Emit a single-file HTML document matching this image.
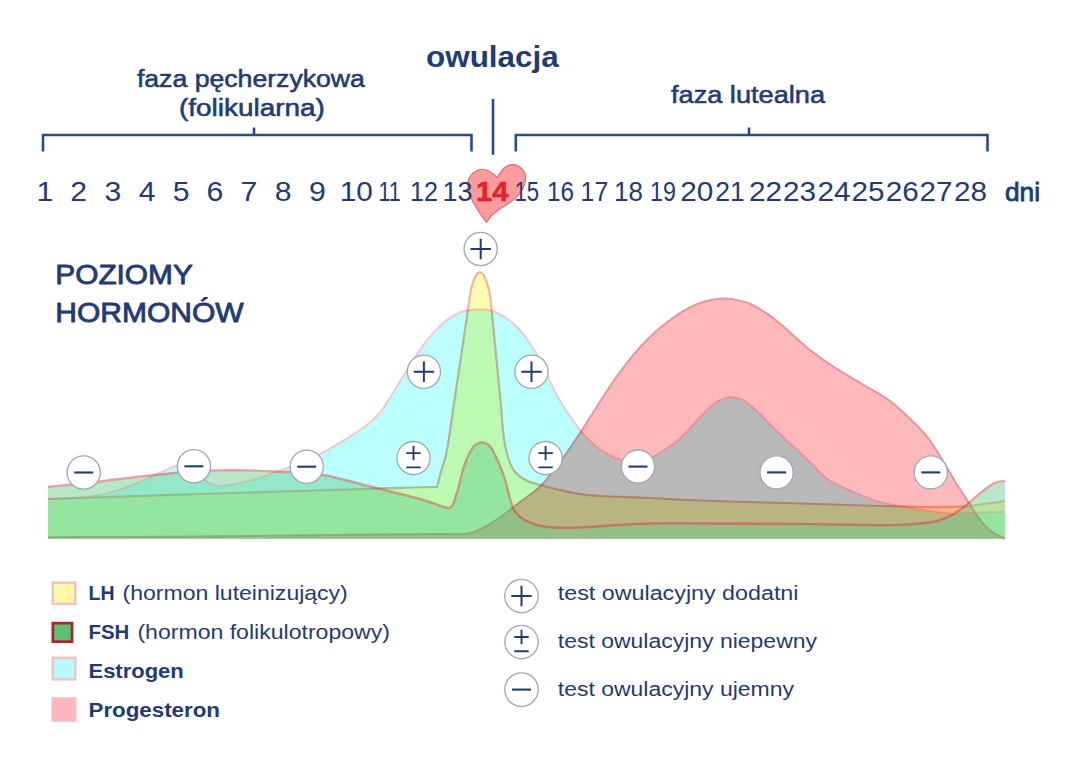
<!DOCTYPE html>
<html lang="pl">
<head>
<meta charset="utf-8">
<title>Poziomy hormonów</title>
<style>
html,body{margin:0;padding:0;background:#ffffff;}
body{width:1080px;height:767px;overflow:hidden;font-family:"Liberation Sans",sans-serif;}
svg text{font-family:"Liberation Sans",sans-serif;}
</style>
</head>
<body>
<svg width="1080" height="767" viewBox="0 0 1080 767" style="display:block;isolation:isolate">
<rect width="1080" height="767" fill="#ffffff"/>
<g style="isolation:isolate">
<rect x="0" y="230" width="1080" height="330" fill="#ffffff"/>
<g style="mix-blend-mode:multiply">
<path d="M48.0 538.7 L48.0 499.0 C53.3 498.8 71.3 498.2 80.0 497.5 C88.7 496.8 93.0 496.4 100.0 495.0 C107.0 493.6 115.2 491.2 122.0 489.0 C128.8 486.8 134.7 484.2 141.0 481.5 C147.3 478.8 154.5 475.3 160.0 472.8 C165.5 470.3 169.5 467.9 174.0 466.5 C178.5 465.1 183.2 463.9 187.0 464.5 C190.8 465.1 193.8 467.2 197.0 470.0 C200.2 472.8 202.5 478.3 206.0 481.0 C209.5 483.7 213.2 485.5 218.0 486.0 C222.8 486.5 228.7 485.2 235.0 484.0 C241.3 482.8 248.3 481.2 256.0 479.0 C263.7 476.8 273.7 473.2 281.0 470.5 C288.3 467.8 293.5 465.8 300.0 463.0 C306.5 460.2 315.0 456.4 320.0 454.0 C325.0 451.6 325.1 451.4 330.0 448.5 C334.9 445.6 343.1 441.1 349.6 436.9 C356.1 432.7 363.9 427.4 369.1 423.2 C374.3 419.0 377.6 415.4 380.9 411.5 C384.2 407.6 385.8 404.3 388.7 399.7 C391.6 395.1 395.2 389.3 398.5 384.1 C401.8 378.9 404.9 373.7 408.2 368.5 C411.4 363.3 414.7 357.7 418.0 352.8 C421.3 347.9 424.5 343.2 427.8 339.1 C431.1 335.0 434.4 331.6 437.6 328.4 C440.9 325.1 444.1 322.1 447.3 319.6 C450.6 317.2 453.8 315.2 457.1 313.7 C460.4 312.2 463.4 311.3 466.9 310.6 C470.4 309.9 473.9 309.5 478.0 309.5 C482.1 309.5 487.1 309.4 491.7 310.8 C496.3 312.2 500.8 314.5 505.4 317.6 C510.0 320.7 514.9 324.7 519.1 329.3 C523.4 333.9 527.6 340.3 530.9 345.0 C534.2 349.7 535.8 352.0 538.7 357.5 C541.6 363.0 545.2 371.5 548.5 378.2 C551.8 384.9 555.0 391.9 558.2 397.8 C561.5 403.7 564.7 408.5 568.0 413.4 C571.3 418.3 575.5 423.9 577.8 427.1 C580.1 430.3 578.8 429.4 581.7 432.5 C584.6 435.6 590.8 442.1 595.0 445.7 C599.2 449.3 602.8 451.6 607.0 454.0 C611.2 456.4 615.8 458.6 620.0 459.8 C624.2 461.1 627.8 461.6 632.0 461.5 C636.2 461.4 641.5 460.3 645.0 459.5 C648.5 458.7 649.3 458.5 653.0 456.6 C656.7 454.7 662.5 451.0 667.0 448.0 C671.5 445.0 675.2 443.1 680.0 438.8 C684.8 434.5 689.9 427.8 695.6 422.0 C701.3 416.2 709.2 407.7 714.0 403.8 C718.8 399.9 721.3 399.7 724.3 398.6 C727.3 397.5 729.0 397.1 732.0 397.3 C735.0 397.5 738.2 397.5 742.6 400.0 C747.0 402.5 754.0 408.5 758.2 412.3 C762.4 416.1 763.6 418.3 768.0 422.6 C772.4 426.9 777.2 431.6 784.3 438.2 C791.3 444.8 802.9 455.5 810.3 462.5 C817.7 469.5 821.5 475.1 828.6 480.0 C835.7 484.9 846.1 488.6 853.0 491.8 C859.9 495.0 863.9 496.9 870.0 499.0 C876.1 501.1 883.1 503.2 889.6 504.6 C896.1 506.0 902.6 506.6 908.7 507.6 C914.8 508.6 921.3 509.7 926.0 510.5 C930.7 511.3 932.7 511.8 937.0 512.4 C941.3 512.9 945.4 513.7 951.7 513.8 C958.0 513.9 966.1 513.4 975.0 513.0 C983.9 512.6 1000.0 511.9 1005.0 511.7 L1005.0 538.7 Z" fill="#bbfffc"/>
<path d="M48.0 499.0 C53.3 498.8 71.3 498.2 80.0 497.5 C88.7 496.8 93.0 496.4 100.0 495.0 C107.0 493.6 115.2 491.2 122.0 489.0 C128.8 486.8 134.7 484.2 141.0 481.5 C147.3 478.8 154.5 475.3 160.0 472.8 C165.5 470.3 169.5 467.9 174.0 466.5 C178.5 465.1 183.2 463.9 187.0 464.5 C190.8 465.1 193.8 467.2 197.0 470.0 C200.2 472.8 202.5 478.3 206.0 481.0 C209.5 483.7 213.2 485.5 218.0 486.0 C222.8 486.5 228.7 485.2 235.0 484.0 C241.3 482.8 248.3 481.2 256.0 479.0 C263.7 476.8 273.7 473.2 281.0 470.5 C288.3 467.8 293.5 465.8 300.0 463.0 C306.5 460.2 315.0 456.4 320.0 454.0 C325.0 451.6 325.1 451.4 330.0 448.5 C334.9 445.6 343.1 441.1 349.6 436.9 C356.1 432.7 363.9 427.4 369.1 423.2 C374.3 419.0 377.6 415.4 380.9 411.5 C384.2 407.6 385.8 404.3 388.7 399.7 C391.6 395.1 395.2 389.3 398.5 384.1 C401.8 378.9 404.9 373.7 408.2 368.5 C411.4 363.3 414.7 357.7 418.0 352.8 C421.3 347.9 424.5 343.2 427.8 339.1 C431.1 335.0 434.4 331.6 437.6 328.4 C440.9 325.1 444.1 322.1 447.3 319.6 C450.6 317.2 453.8 315.2 457.1 313.7 C460.4 312.2 463.4 311.3 466.9 310.6 C470.4 309.9 473.9 309.5 478.0 309.5 C482.1 309.5 487.1 309.4 491.7 310.8 C496.3 312.2 500.8 314.5 505.4 317.6 C510.0 320.7 514.9 324.7 519.1 329.3 C523.4 333.9 527.6 340.3 530.9 345.0 C534.2 349.7 535.8 352.0 538.7 357.5 C541.6 363.0 545.2 371.5 548.5 378.2 C551.8 384.9 555.0 391.9 558.2 397.8 C561.5 403.7 564.7 408.5 568.0 413.4 C571.3 418.3 575.5 423.9 577.8 427.1 C580.1 430.3 578.8 429.4 581.7 432.5 C584.6 435.6 590.8 442.1 595.0 445.7 C599.2 449.3 602.8 451.6 607.0 454.0 C611.2 456.4 615.8 458.6 620.0 459.8 C624.2 461.1 627.8 461.6 632.0 461.5 C636.2 461.4 641.5 460.3 645.0 459.5 C648.5 458.7 649.3 458.5 653.0 456.6 C656.7 454.7 662.5 451.0 667.0 448.0 C671.5 445.0 675.2 443.1 680.0 438.8 C684.8 434.5 689.9 427.8 695.6 422.0 C701.3 416.2 709.2 407.7 714.0 403.8 C718.8 399.9 721.3 399.7 724.3 398.6 C727.3 397.5 729.0 397.1 732.0 397.3 C735.0 397.5 738.2 397.5 742.6 400.0 C747.0 402.5 754.0 408.5 758.2 412.3 C762.4 416.1 763.6 418.3 768.0 422.6 C772.4 426.9 777.2 431.6 784.3 438.2 C791.3 444.8 802.9 455.5 810.3 462.5 C817.7 469.5 821.5 475.1 828.6 480.0 C835.7 484.9 846.1 488.6 853.0 491.8 C859.9 495.0 863.9 496.9 870.0 499.0 C876.1 501.1 883.1 503.2 889.6 504.6 C896.1 506.0 902.6 506.6 908.7 507.6 C914.8 508.6 921.3 509.7 926.0 510.5 C930.7 511.3 932.7 511.8 937.0 512.4 C941.3 512.9 945.4 513.7 951.7 513.8 C958.0 513.9 966.1 513.4 975.0 513.0 C983.9 512.6 1000.0 511.9 1005.0 511.7 " fill="none" stroke="#eecbd0" stroke-width="2.1" stroke-linejoin="round"/>
</g>
<g style="mix-blend-mode:multiply">
<path d="M48.0 538.7 L48.0 499.0 C56.7 498.7 74.7 498.1 100.0 497.3 C125.3 496.5 166.7 495.1 200.0 494.0 C233.3 492.9 266.7 492.0 300.0 491.0 C333.3 490.0 379.2 488.4 400.0 487.8 C420.8 487.2 418.8 487.3 425.0 487.2 C431.2 487.1 435.0 487.0 437.0 487.0 C437.8 484.2 439.8 476.2 441.5 470.0 C443.2 463.8 444.8 461.7 447.0 450.0 C449.2 438.3 452.1 415.8 454.5 400.0 C456.9 384.2 459.1 370.0 461.3 355.0 C463.5 340.0 466.3 320.7 467.9 310.0 C469.5 299.3 469.8 295.9 470.7 291.0 C471.6 286.1 472.6 283.4 473.6 280.6 C474.7 277.8 475.9 275.4 477.0 274.0 C478.1 272.6 479.0 272.3 480.0 272.3 C481.0 272.3 482.0 272.6 483.0 274.0 C484.0 275.4 485.0 277.8 486.0 280.6 C487.0 283.4 488.3 286.9 489.2 291.0 C490.1 295.1 490.1 294.8 491.2 305.0 C492.3 315.2 494.1 336.2 495.7 352.0 C497.2 367.8 499.3 386.8 500.5 400.0 C501.7 413.2 501.9 422.3 503.0 431.3 C504.1 440.3 505.4 447.8 507.2 454.2 C508.9 460.6 510.4 465.6 513.5 470.0 C516.6 474.4 521.1 477.7 526.0 480.3 C530.9 482.9 537.0 484.1 542.7 485.7 C548.4 487.3 554.4 488.7 560.0 490.0 C565.6 491.3 569.8 492.5 576.5 493.5 C583.2 494.5 587.8 495.2 600.0 496.0 C612.2 496.8 633.3 497.2 650.0 498.0 C666.7 498.8 675.0 499.6 700.0 500.5 C725.0 501.4 770.0 502.6 800.0 503.5 C830.0 504.4 859.5 505.4 880.0 506.0 C900.5 506.6 909.7 506.9 923.0 507.0 C936.3 507.1 950.5 507.1 960.0 506.7 C969.5 506.3 972.5 505.4 980.0 504.5 C987.5 503.6 1000.8 501.6 1005.0 501.0 L1005.0 538.7 Z" fill="#fffab4"/>
<path d="M48.0 499.0 C56.7 498.7 74.7 498.1 100.0 497.3 C125.3 496.5 166.7 495.1 200.0 494.0 C233.3 492.9 266.7 492.0 300.0 491.0 C333.3 490.0 379.2 488.4 400.0 487.8 C420.8 487.2 418.8 487.3 425.0 487.2 C431.2 487.1 435.0 487.0 437.0 487.0 C437.8 484.2 439.8 476.2 441.5 470.0 C443.2 463.8 444.8 461.7 447.0 450.0 C449.2 438.3 452.1 415.8 454.5 400.0 C456.9 384.2 459.1 370.0 461.3 355.0 C463.5 340.0 466.3 320.7 467.9 310.0 C469.5 299.3 469.8 295.9 470.7 291.0 C471.6 286.1 472.6 283.4 473.6 280.6 C474.7 277.8 475.9 275.4 477.0 274.0 C478.1 272.6 479.0 272.3 480.0 272.3 C481.0 272.3 482.0 272.6 483.0 274.0 C484.0 275.4 485.0 277.8 486.0 280.6 C487.0 283.4 488.3 286.9 489.2 291.0 C490.1 295.1 490.1 294.8 491.2 305.0 C492.3 315.2 494.1 336.2 495.7 352.0 C497.2 367.8 499.3 386.8 500.5 400.0 C501.7 413.2 501.9 422.3 503.0 431.3 C504.1 440.3 505.4 447.8 507.2 454.2 C508.9 460.6 510.4 465.6 513.5 470.0 C516.6 474.4 521.1 477.7 526.0 480.3 C530.9 482.9 537.0 484.1 542.7 485.7 C548.4 487.3 554.4 488.7 560.0 490.0 C565.6 491.3 569.8 492.5 576.5 493.5 C583.2 494.5 587.8 495.2 600.0 496.0 C612.2 496.8 633.3 497.2 650.0 498.0 C666.7 498.8 675.0 499.6 700.0 500.5 C725.0 501.4 770.0 502.6 800.0 503.5 C830.0 504.4 859.5 505.4 880.0 506.0 C900.5 506.6 909.7 506.9 923.0 507.0 C936.3 507.1 950.5 507.1 960.0 506.7 C969.5 506.3 972.5 505.4 980.0 504.5 C987.5 503.6 1000.8 501.6 1005.0 501.0 " fill="none" stroke="#f2b698" stroke-width="2.2" stroke-linejoin="round"/>
</g>
<g style="mix-blend-mode:multiply">
<path d="M48.0 538.7 L48.0 537.3 C73.3 537.2 141.3 537.0 200.0 536.5 C258.7 536.0 360.0 534.7 400.0 534.3 C440.0 533.9 428.7 534.1 440.0 534.0 C451.3 533.9 460.1 534.7 467.6 533.5 C475.1 532.3 478.8 530.3 485.0 527.0 C491.2 523.7 499.2 517.9 505.0 513.7 C510.8 509.5 514.1 506.6 520.0 502.0 C525.9 497.4 533.5 493.1 540.3 486.3 C547.1 479.5 553.9 470.4 560.7 461.3 C567.5 452.2 575.8 439.4 581.0 431.6 C586.2 423.8 588.1 420.6 592.0 414.5 C595.9 408.4 599.8 401.8 604.3 395.0 C608.8 388.2 613.9 380.5 618.7 373.9 C623.5 367.3 628.2 361.0 633.0 355.3 C637.8 349.6 642.6 344.3 647.4 339.5 C652.2 334.7 656.9 330.6 661.7 326.6 C666.5 322.7 671.2 319.0 676.0 315.8 C680.8 312.6 685.6 309.6 690.4 307.2 C695.2 304.8 699.9 302.9 704.7 301.5 C709.5 300.1 714.2 299.1 719.0 298.7 C723.8 298.3 728.2 298.4 733.4 299.3 C738.6 300.2 744.1 301.1 750.4 304.0 C756.7 306.9 764.7 311.8 771.2 316.5 C777.7 321.2 783.0 326.4 789.5 332.0 C796.0 337.6 802.5 344.3 810.3 350.4 C818.1 356.5 827.7 363.0 836.4 368.6 C845.1 374.2 853.8 379.1 862.5 384.3 C871.2 389.5 880.8 394.4 888.6 400.0 C896.4 405.6 902.9 411.9 909.4 418.2 C915.9 424.4 922.1 430.3 927.7 437.5 C933.4 444.7 938.5 453.8 943.3 461.5 C948.1 469.2 951.9 476.4 956.3 483.5 C960.7 490.6 965.6 497.7 969.6 503.8 C973.6 509.9 976.7 515.6 980.4 520.3 C984.1 525.0 987.8 528.7 991.9 531.8 C996.0 534.9 1002.8 537.6 1005.0 538.8 L1005.0 538.7 Z" fill="#fdb9bb"/>
<path d="M48.0 537.3 C73.3 537.2 141.3 537.0 200.0 536.5 C258.7 536.0 360.0 534.7 400.0 534.3 C440.0 533.9 428.7 534.1 440.0 534.0 C451.3 533.9 460.1 534.7 467.6 533.5 C475.1 532.3 478.8 530.3 485.0 527.0 C491.2 523.7 499.2 517.9 505.0 513.7 C510.8 509.5 514.1 506.6 520.0 502.0 C525.9 497.4 533.5 493.1 540.3 486.3 C547.1 479.5 553.9 470.4 560.7 461.3 C567.5 452.2 575.8 439.4 581.0 431.6 C586.2 423.8 588.1 420.6 592.0 414.5 C595.9 408.4 599.8 401.8 604.3 395.0 C608.8 388.2 613.9 380.5 618.7 373.9 C623.5 367.3 628.2 361.0 633.0 355.3 C637.8 349.6 642.6 344.3 647.4 339.5 C652.2 334.7 656.9 330.6 661.7 326.6 C666.5 322.7 671.2 319.0 676.0 315.8 C680.8 312.6 685.6 309.6 690.4 307.2 C695.2 304.8 699.9 302.9 704.7 301.5 C709.5 300.1 714.2 299.1 719.0 298.7 C723.8 298.3 728.2 298.4 733.4 299.3 C738.6 300.2 744.1 301.1 750.4 304.0 C756.7 306.9 764.7 311.8 771.2 316.5 C777.7 321.2 783.0 326.4 789.5 332.0 C796.0 337.6 802.5 344.3 810.3 350.4 C818.1 356.5 827.7 363.0 836.4 368.6 C845.1 374.2 853.8 379.1 862.5 384.3 C871.2 389.5 880.8 394.4 888.6 400.0 C896.4 405.6 902.9 411.9 909.4 418.2 C915.9 424.4 922.1 430.3 927.7 437.5 C933.4 444.7 938.5 453.8 943.3 461.5 C948.1 469.2 951.9 476.4 956.3 483.5 C960.7 490.6 965.6 497.7 969.6 503.8 C973.6 509.9 976.7 515.6 980.4 520.3 C984.1 525.0 987.8 528.7 991.9 531.8 C996.0 534.9 1002.8 537.6 1005.0 538.8 " fill="none" stroke="#e8969c" stroke-width="2.0" stroke-linejoin="round"/>
</g>
<g opacity="0.45">
<path d="M48.0 538.7 L48.0 487.0 C56.7 486.1 83.0 483.4 100.0 481.5 C117.0 479.6 133.3 477.2 150.0 475.5 C166.7 473.8 185.0 471.9 200.0 471.0 C215.0 470.1 227.7 470.2 240.0 470.3 C252.3 470.4 260.3 470.7 274.0 471.5 C287.7 472.3 306.6 472.6 322.0 475.0 C337.4 477.4 353.7 482.5 366.7 485.7 C379.7 488.9 391.1 491.8 400.0 494.0 C408.9 496.2 414.0 497.3 420.0 499.0 C426.0 500.7 432.0 503.0 436.0 504.3 C440.0 505.6 441.9 506.4 444.0 507.0 C446.1 507.6 447.2 508.2 448.6 508.0 C450.0 507.8 451.3 507.1 452.3 505.8 C453.3 504.5 453.7 502.9 454.7 500.0 C455.7 497.1 457.3 491.9 458.4 488.2 C459.4 484.4 460.2 480.7 461.0 477.5 C461.8 474.3 462.3 471.9 463.2 469.0 C464.1 466.1 464.9 463.4 466.5 459.8 C468.1 456.2 471.1 450.1 473.0 447.4 C474.9 444.7 476.4 444.3 478.0 443.5 C479.6 442.7 481.0 442.4 482.5 442.5 C484.0 442.6 485.5 443.1 487.0 444.0 C488.5 444.9 489.5 445.2 491.3 448.0 C493.1 450.8 495.6 456.1 497.8 461.0 C500.0 465.9 502.4 471.7 504.3 477.4 C506.2 483.1 507.5 489.7 509.0 495.0 C510.5 500.3 511.7 505.3 513.5 509.0 C515.3 512.7 517.2 514.8 520.0 517.0 C522.8 519.2 525.5 520.8 530.0 522.5 C534.5 524.2 539.2 526.1 547.0 527.0 C554.8 527.9 566.0 527.9 576.5 527.6 C587.0 527.4 597.8 526.2 610.0 525.5 C622.2 524.8 635.0 523.8 650.0 523.5 C665.0 523.2 675.0 523.4 700.0 523.5 C725.0 523.6 770.0 523.7 800.0 524.0 C830.0 524.3 861.7 525.2 880.0 525.3 C898.3 525.3 902.8 524.6 910.0 524.3 C917.2 523.9 918.4 523.8 923.0 523.2 C927.6 522.7 932.6 522.3 937.4 521.0 C942.2 519.7 946.9 517.9 951.7 515.3 C956.5 512.7 961.2 509.0 966.0 505.3 C970.8 501.6 975.6 496.7 980.4 493.0 C985.2 489.3 990.6 485.2 994.7 483.2 C998.8 481.2 1003.3 481.3 1005.0 480.9 L1005.0 538.7 Z" fill="#66cc8b"/>
<path d="M48.0 487.0 C56.7 486.1 83.0 483.4 100.0 481.5 C117.0 479.6 133.3 477.2 150.0 475.5 C166.7 473.8 185.0 471.9 200.0 471.0 C215.0 470.1 227.7 470.2 240.0 470.3 C252.3 470.4 260.3 470.7 274.0 471.5 C287.7 472.3 306.6 472.6 322.0 475.0 C337.4 477.4 353.7 482.5 366.7 485.7 C379.7 488.9 391.1 491.8 400.0 494.0 C408.9 496.2 414.0 497.3 420.0 499.0 C426.0 500.7 432.0 503.0 436.0 504.3 C440.0 505.6 441.9 506.4 444.0 507.0 C446.1 507.6 447.2 508.2 448.6 508.0 C450.0 507.8 451.3 507.1 452.3 505.8 C453.3 504.5 453.7 502.9 454.7 500.0 C455.7 497.1 457.3 491.9 458.4 488.2 C459.4 484.4 460.2 480.7 461.0 477.5 C461.8 474.3 462.3 471.9 463.2 469.0 C464.1 466.1 464.9 463.4 466.5 459.8 C468.1 456.2 471.1 450.1 473.0 447.4 C474.9 444.7 476.4 444.3 478.0 443.5 C479.6 442.7 481.0 442.4 482.5 442.5 C484.0 442.6 485.5 443.1 487.0 444.0 C488.5 444.9 489.5 445.2 491.3 448.0 C493.1 450.8 495.6 456.1 497.8 461.0 C500.0 465.9 502.4 471.7 504.3 477.4 C506.2 483.1 507.5 489.7 509.0 495.0 C510.5 500.3 511.7 505.3 513.5 509.0 C515.3 512.7 517.2 514.8 520.0 517.0 C522.8 519.2 525.5 520.8 530.0 522.5 C534.5 524.2 539.2 526.1 547.0 527.0 C554.8 527.9 566.0 527.9 576.5 527.6 C587.0 527.4 597.8 526.2 610.0 525.5 C622.2 524.8 635.0 523.8 650.0 523.5 C665.0 523.2 675.0 523.4 700.0 523.5 C725.0 523.6 770.0 523.7 800.0 524.0 C830.0 524.3 861.7 525.2 880.0 525.3 C898.3 525.3 902.8 524.6 910.0 524.3 C917.2 523.9 918.4 523.8 923.0 523.2 C927.6 522.7 932.6 522.3 937.4 521.0 C942.2 519.7 946.9 517.9 951.7 515.3 C956.5 512.7 961.2 509.0 966.0 505.3 C970.8 501.6 975.6 496.7 980.4 493.0 C985.2 489.3 990.6 485.2 994.7 483.2 C998.8 481.2 1003.3 481.3 1005.0 480.9 " fill="none" stroke="#cc3030" stroke-width="2.4" stroke-linejoin="round"/>
</g>
</g>
<circle cx="83.7" cy="472.5" r="16.6" fill="#ffffff" stroke="#a3a8b6" stroke-width="1.35"/><path d="M74.2 472.5h19" stroke="#1f3b78" stroke-width="2.1" fill="none"/>
<circle cx="193.9" cy="466.3" r="16.6" fill="#ffffff" stroke="#a3a8b6" stroke-width="1.35"/><path d="M184.4 466.3h19" stroke="#1f3b78" stroke-width="2.1" fill="none"/>
<circle cx="306.7" cy="466.7" r="16.6" fill="#ffffff" stroke="#a3a8b6" stroke-width="1.35"/><path d="M297.2 466.7h19" stroke="#1f3b78" stroke-width="2.1" fill="none"/>
<circle cx="480.7" cy="249.0" r="16.6" fill="#ffffff" stroke="#a3a8b6" stroke-width="1.35"/><path d="M470.5 249.0h20.4M480.7 238.8v20.4" stroke="#1f3b78" stroke-width="2.0" fill="none"/>
<circle cx="423.9" cy="371.7" r="16.6" fill="#ffffff" stroke="#a3a8b6" stroke-width="1.35"/><path d="M413.7 371.7h20.4M423.9 361.5v20.4" stroke="#1f3b78" stroke-width="2.0" fill="none"/>
<circle cx="531.5" cy="371.7" r="16.6" fill="#ffffff" stroke="#a3a8b6" stroke-width="1.35"/><path d="M521.3 371.7h20.4M531.5 361.5v20.4" stroke="#1f3b78" stroke-width="2.0" fill="none"/>
<circle cx="413.5" cy="458.1" r="16.6" fill="#ffffff" stroke="#a3a8b6" stroke-width="1.35"/><path d="M406.3 453.1h14.4M413.5 445.9v14.4M406.3 467.4h14.4" stroke="#1f3b78" stroke-width="1.9" fill="none"/>
<circle cx="545.6" cy="458.1" r="16.6" fill="#ffffff" stroke="#a3a8b6" stroke-width="1.35"/><path d="M538.4 453.1h14.4M545.6 445.9v14.4M538.4 467.4h14.4" stroke="#1f3b78" stroke-width="1.9" fill="none"/>
<circle cx="638.0" cy="466.6" r="16.6" fill="#ffffff" stroke="#a3a8b6" stroke-width="1.35"/><path d="M628.5 466.6h19" stroke="#1f3b78" stroke-width="2.1" fill="none"/>
<circle cx="776.6" cy="472.4" r="16.6" fill="#ffffff" stroke="#a3a8b6" stroke-width="1.35"/><path d="M767.1 472.4h19" stroke="#1f3b78" stroke-width="2.1" fill="none"/>
<circle cx="930.8" cy="472.4" r="16.6" fill="#ffffff" stroke="#a3a8b6" stroke-width="1.35"/><path d="M921.3 472.4h19" stroke="#1f3b78" stroke-width="2.1" fill="none"/>
<g stroke="#2a4a8e" stroke-width="2.6" fill="none">
<path d="M43 151.5V135H471.5V151.5"/>
<path d="M254 135V127.5"/>
<path d="M515.8 151.5V135H987.5V151.5"/>
<path d="M749 135V127.5"/>
<path d="M493 99V154.8"/>
</g>
<path d="M486.5 222.5 C485.3 220.9 481.8 216.3 479.5 212.7 C477.2 209.1 474.4 204.6 472.6 201.0 C470.8 197.4 469.5 194.1 468.7 191.2 C467.9 188.3 467.4 186.0 467.7 183.4 C468.0 180.8 469.2 177.6 470.7 175.5 C472.2 173.4 474.7 171.8 476.5 170.7 C478.3 169.6 479.4 169.2 481.4 169.2 C483.4 169.2 486.2 169.8 488.3 170.7 C490.4 171.6 492.6 173.4 494.1 174.6 C495.6 175.8 496.6 177.3 497.1 177.8 C497.8 176.8 499.5 173.4 501.0 171.6 C502.5 169.8 503.9 167.9 505.9 166.7 C507.8 165.5 510.4 164.6 512.7 164.6 C515.0 164.6 517.6 165.4 519.6 166.7 C521.6 168.0 523.5 170.6 524.5 172.6 C525.5 174.6 525.8 176.1 525.6 178.5 C525.4 180.9 524.8 184.4 523.5 187.3 C522.2 190.2 519.9 193.6 517.6 196.1 C515.3 198.6 512.9 200.3 509.8 202.5 C506.7 204.7 502.1 207.2 499.0 209.5 C495.9 211.8 493.3 213.8 491.2 216.0 C489.1 218.2 487.3 221.4 486.5 222.5 Z" fill="#f9898c" fill-opacity="0.85" stroke="#e3676c" stroke-width="1.1" stroke-linejoin="round"/>
<g font-family="'Liberation Sans', sans-serif">
<text x="426.1" y="66.9" font-size="30" font-weight="bold" fill="#1f3b78" textLength="132.6" lengthAdjust="spacingAndGlyphs">owulacja</text>
<text x="136.9" y="86.5" font-size="23.5" font-weight="normal" fill="#1f3b78" textLength="228.0" lengthAdjust="spacingAndGlyphs" stroke="#1f3b78" stroke-width="0.55" stroke-linejoin="round">faza pęcherzykowa</text>
<text x="179.0" y="115.6" font-size="23.5" font-weight="normal" fill="#1f3b78" textLength="145.8" lengthAdjust="spacingAndGlyphs" stroke="#1f3b78" stroke-width="0.55" stroke-linejoin="round">(folikularna)</text>
<text x="671.0" y="102.5" font-size="23.5" font-weight="normal" fill="#1f3b78" textLength="154.0" lengthAdjust="spacingAndGlyphs" stroke="#1f3b78" stroke-width="0.55" stroke-linejoin="round">faza lutealna</text>
<text transform="translate(44.8 201.2) scale(1.120 1)" text-anchor="middle" font-size="27" fill="#1f3b78">1</text>
<text transform="translate(78.7 201.2) scale(1.120 1)" text-anchor="middle" font-size="27" fill="#1f3b78">2</text>
<text transform="translate(113.0 201.2) scale(1.120 1)" text-anchor="middle" font-size="27" fill="#1f3b78">3</text>
<text transform="translate(147.2 201.2) scale(1.120 1)" text-anchor="middle" font-size="27" fill="#1f3b78">4</text>
<text transform="translate(181.2 201.2) scale(1.120 1)" text-anchor="middle" font-size="27" fill="#1f3b78">5</text>
<text transform="translate(215.0 201.2) scale(1.120 1)" text-anchor="middle" font-size="27" fill="#1f3b78">6</text>
<text transform="translate(249.0 201.2) scale(1.120 1)" text-anchor="middle" font-size="27" fill="#1f3b78">7</text>
<text transform="translate(283.2 201.2) scale(1.120 1)" text-anchor="middle" font-size="27" fill="#1f3b78">8</text>
<text transform="translate(317.5 201.2) scale(1.120 1)" text-anchor="middle" font-size="27" fill="#1f3b78">9</text>
<text transform="translate(356.2 201.2) scale(1.100 1)" text-anchor="middle" font-size="27" fill="#1f3b78">10</text>
<text transform="translate(389.6 201.2) scale(0.800 1)" text-anchor="middle" font-size="27" fill="#1f3b78">11</text>
<text transform="translate(424.0 201.2) scale(0.930 1)" text-anchor="middle" font-size="27" fill="#1f3b78">12</text>
<text transform="translate(457.5 201.2) scale(1.000 1)" text-anchor="middle" font-size="27" fill="#1f3b78">13</text>
<text transform="translate(526.8 201.2) scale(0.820 1)" text-anchor="middle" font-size="27" fill="#1f3b78">15</text>
<text transform="translate(560.6 201.2) scale(0.900 1)" text-anchor="middle" font-size="27" fill="#1f3b78">16</text>
<text transform="translate(594.4 201.2) scale(0.920 1)" text-anchor="middle" font-size="27" fill="#1f3b78">17</text>
<text transform="translate(628.4 201.2) scale(0.960 1)" text-anchor="middle" font-size="27" fill="#1f3b78">18</text>
<text transform="translate(662.9 201.2) scale(0.860 1)" text-anchor="middle" font-size="27" fill="#1f3b78">19</text>
<text transform="translate(696.8 201.2) scale(1.100 1)" text-anchor="middle" font-size="27" fill="#1f3b78">20</text>
<text transform="translate(730.0 201.2) scale(0.980 1)" text-anchor="middle" font-size="27" fill="#1f3b78">21</text>
<text transform="translate(765.5 201.2) scale(1.100 1)" text-anchor="middle" font-size="27" fill="#1f3b78">22</text>
<text transform="translate(799.5 201.2) scale(1.100 1)" text-anchor="middle" font-size="27" fill="#1f3b78">23</text>
<text transform="translate(834.0 201.2) scale(1.100 1)" text-anchor="middle" font-size="27" fill="#1f3b78">24</text>
<text transform="translate(868.0 201.2) scale(1.100 1)" text-anchor="middle" font-size="27" fill="#1f3b78">25</text>
<text transform="translate(902.2 201.2) scale(1.100 1)" text-anchor="middle" font-size="27" fill="#1f3b78">26</text>
<text transform="translate(936.0 201.2) scale(1.100 1)" text-anchor="middle" font-size="27" fill="#1f3b78">27</text>
<text transform="translate(970.4 201.2) scale(1.100 1)" text-anchor="middle" font-size="27" fill="#1f3b78">28</text>
<text x="1005.0" y="201.2" font-size="25" font-weight="normal" fill="#1f3b78" textLength="35.0" lengthAdjust="spacingAndGlyphs" stroke="#1f3b78" stroke-width="0.8" stroke-linejoin="round">dni</text>
<text x="55.3" y="284.2" font-size="28.4" font-weight="normal" fill="#1f3b78" textLength="137.5" lengthAdjust="spacingAndGlyphs" stroke="#1f3b78" stroke-width="0.9" stroke-linejoin="round">POZIOMY</text>
<text x="55.3" y="322.3" font-size="28.4" font-weight="normal" fill="#1f3b78" textLength="188.4" lengthAdjust="spacingAndGlyphs" stroke="#1f3b78" stroke-width="0.9" stroke-linejoin="round">HORMONÓW</text>
</g>
<g font-family="'Liberation Sans', sans-serif">
<text x="476.0" y="200.5" font-size="28.5" font-weight="bold" fill="#e6212b" textLength="32.3" lengthAdjust="spacingAndGlyphs" stroke="#e6212b" stroke-width="0.6" stroke-linejoin="round">14</text>
</g>
<rect x="52.7" y="582.7" width="22.6" height="21.1" fill="#fff8aa" stroke="#f1c1be" stroke-width="2.4"/>
<rect x="52.85" y="623.15" width="19.2" height="18.5" fill="#5ac072" stroke="#b0212f" stroke-width="2.7"/>
<rect x="52.7" y="657.8" width="22.6" height="21.6" fill="#b9fbfc" stroke="#f1c1c5" stroke-width="2.4"/>
<rect x="52.7" y="698.5" width="22.6" height="22.1" fill="#fdb6b9" stroke="#f6bdc1" stroke-width="2.4"/>
<g font-family="'Liberation Sans', sans-serif">
<text x="88.5" y="600.0" font-size="19.8" font-weight="bold" fill="#1f3b78" textLength="26.0" lengthAdjust="spacingAndGlyphs">LH</text>
<text x="122.6" y="600.0" font-size="19.8" font-weight="normal" fill="#1f3b78" textLength="225.2" lengthAdjust="spacingAndGlyphs">(hormon luteinizujący)</text>
<text x="88.5" y="638.9" font-size="19.8" font-weight="bold" fill="#1f3b78" textLength="40.8" lengthAdjust="spacingAndGlyphs">FSH</text>
<text x="137.4" y="638.9" font-size="19.8" font-weight="normal" fill="#1f3b78" textLength="252.6" lengthAdjust="spacingAndGlyphs">(hormon folikulotropowy)</text>
<text x="88.5" y="677.8" font-size="19.8" font-weight="bold" fill="#1f3b78" textLength="95.2" lengthAdjust="spacingAndGlyphs">Estrogen</text>
<text x="88.5" y="716.7" font-size="19.8" font-weight="bold" fill="#1f3b78" textLength="131.5" lengthAdjust="spacingAndGlyphs">Progesteron</text>
<text x="557.8" y="599.8" font-size="20" font-weight="normal" fill="#1f3b78" textLength="240.7" lengthAdjust="spacingAndGlyphs">test owulacyjny dodatni</text>
<text x="557.8" y="647.8" font-size="20" font-weight="normal" fill="#1f3b78" textLength="259.2" lengthAdjust="spacingAndGlyphs">test owulacyjny niepewny</text>
<text x="557.8" y="696.0" font-size="20" font-weight="normal" fill="#1f3b78" textLength="236.2" lengthAdjust="spacingAndGlyphs">test owulacyjny ujemny</text>
</g>
<circle cx="521.5" cy="596.0" r="16.7" fill="#ffffff" stroke="#a3a8b6" stroke-width="1.35"/><path d="M511.3 596.0h20.4M521.5 585.8v20.4" stroke="#1f3b78" stroke-width="2.0" fill="none"/>
<circle cx="521.5" cy="642.0" r="16.7" fill="#ffffff" stroke="#a3a8b6" stroke-width="1.35"/><path d="M514.3 637.0h14.4M521.5 629.8v14.4M514.3 651.3h14.4" stroke="#1f3b78" stroke-width="1.9" fill="none"/>
<circle cx="521.5" cy="689.6" r="16.7" fill="#ffffff" stroke="#a3a8b6" stroke-width="1.35"/><path d="M512.0 689.6h19" stroke="#1f3b78" stroke-width="2.1" fill="none"/>
</svg>
</body>
</html>
